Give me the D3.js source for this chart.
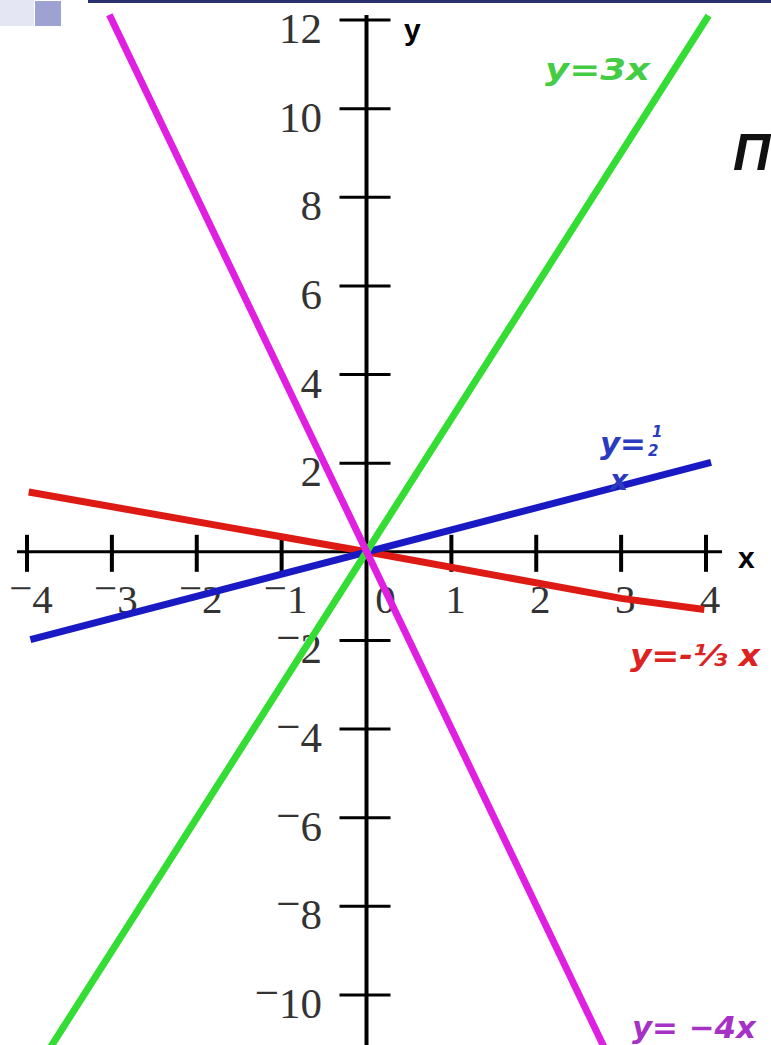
<!DOCTYPE html>
<html>
<head>
<meta charset="utf-8">
<script src="https://cdn.jsdelivr.net/npm/d3@7"></script>
<style>
  body { margin: 0; background: #fff; }
  svg { display: block; }
</style>
</head>
<body>
<div id="chart"></div>
<script>
const width = 771
const height = 1045

// tick values
const xTicks = [-4, -3, -2, -1, 0, 1, 2, 3, 4]
const yTicks = [-10, -8, -6, -4, -2, 2, 4, 6, 8, 10, 12]

// points, [x, y]
const greenLine = [[-3.73, -11.2], [4.03, 12.1]]
const magentaLine = [[-3.03, 12.12], [2.88, -11.5]]
const blueLine = [[-3.96, -1.98], [4.06, 2.02]]
const redLine = [[-3.98, 1.35], [0, 0], [3, -1.05], [3.98, -1.3]]

const x = d3.scaleLinear().domain([-4, 4]).range([27, 706])
const y = d3.scaleLinear().domain([-10, 12]).range([995, 20])

const svg = d3.select('#chart').append('svg')
  .attr('width', width)
  .attr('height', height)

// slide decoration at the top
svg.append('rect').attr('x', 0).attr('y', 0).attr('width', 34).attr('height', 26).attr('fill', '#e4e6f4')
svg.append('rect').attr('x', 35).attr('y', 1).attr('width', 26).attr('height', 25).attr('fill', '#9ea2d2')
svg.append('rect').attr('x', 88).attr('y', 0).attr('width', width - 88).attr('height', 3).attr('fill', '#2a3270')

const ox = x(0)
const oy = y(0)

// axes
svg.append('line')
  .attr('x1', ox).attr('x2', ox)
  .attr('y1', 15).attr('y2', height)
  .attr('stroke', '#000').attr('stroke-width', 4)

svg.append('line')
  .attr('x1', 17).attr('x2', 722)
  .attr('y1', oy).attr('y2', oy)
  .attr('stroke', '#000').attr('stroke-width', 3)

svg.selectAll('.xtick')
  .data(xTicks.filter(d => d !== 0)).enter()
  .append('line')
  .attr('x1', d => x(d)).attr('x2', d => x(d))
  .attr('y1', oy - 17).attr('y2', oy + 20)
  .attr('stroke', '#000').attr('stroke-width', 4)

svg.selectAll('.ytick')
  .data(yTicks).enter()
  .append('line')
  .attr('x1', ox - 27).attr('x2', ox + 24)
  .attr('y1', d => y(d)).attr('y2', d => y(d))
  .attr('stroke', '#000').attr('stroke-width', 3)

const serif = '"Liberation Serif", "DejaVu Serif", serif'

// minus sign sits raised, as in the original typesetting
const addLabel = (sel, d) => {
  if (d < 0) {
    sel.append('tspan').attr('dy', -11).text('\u2212')
    sel.append('tspan').attr('dy', 11).text(Math.abs(d))
  } else {
    sel.text(d)
  }
}

svg.selectAll('.xlab')
  .data(xTicks).enter()
  .append('text')
  .attr('x', d => d === 0 ? x(d) + 19 : x(d) + 4)
  .attr('y', oy + 61)
  .attr('text-anchor', 'middle')
  .attr('font-family', serif)
  .attr('font-size', 41)
  .attr('fill', '#333')
  .each(function (d) { addLabel(d3.select(this), d) })

svg.selectAll('.ylab')
  .data(yTicks).enter()
  .append('text')
  .attr('x', 322)
  .attr('y', d => y(d) + 23)
  .attr('text-anchor', 'end')
  .attr('font-family', serif)
  .attr('font-size', 43)
  .attr('fill', '#333')
  .each(function (d) { addLabel(d3.select(this), d) })

// axis names
svg.append('text').attr('x', 404).attr('y', 40)
  .attr('font-family', '"Liberation Sans", Arial, sans-serif')
  .attr('font-weight', 'bold').attr('font-size', 30).text('y')
svg.append('text').attr('x', 738).attr('y', 568)
  .attr('font-family', '"Liberation Sans", Arial, sans-serif')
  .attr('font-weight', 'bold').attr('font-size', 30).text('x')

// function lines
const line = d3.line().x(d => x(d[0])).y(d => y(d[1]))

const series = [
  { pts: redLine, color: '#dd1a14' },
  { pts: blueLine, color: '#1a1ac4' },
  { pts: greenLine, color: '#33dd33' },
  { pts: magentaLine, color: '#e020e0' }
]

svg.selectAll('.fn')
  .data(series).enter()
  .append('path')
  .attr('d', d => line(d.pts))
  .attr('fill', 'none')
  .attr('stroke', d => d.color)
  .attr('stroke-width', 7)
  .attr('stroke-linecap', 'butt')

// equation labels
const lblFont = '"DejaVu Sans", "Liberation Sans", sans-serif'
const eq = (tx, ty, color, size, len) => {
  const t = svg.append('text')
    .attr('x', tx).attr('y', ty)
    .attr('font-family', lblFont)
    .attr('font-weight', 'bold')
    .attr('font-style', 'italic')
    .attr('font-size', size)
    .attr('fill', color)
  if (len) t.attr('textLength', len).attr('lengthAdjust', 'spacingAndGlyphs')
  return t
}

eq(545, 80, '#44cc44', 30, 105).text('y=3x')

eq(600, 454, '#2a3bbf', 30, 46).text('y=')
eq(652, 437, '#2a3bbf', 15).text('1')
eq(648, 456, '#2a3bbf', 15).text('2')
eq(610, 490, '#2a3bbf', 28).text('x')

eq(630, 666, '#dd2222', 30, 130).text('y=-\u2153 x')
eq(632, 1038, '#a532c4', 30, 124).text('y= \u22124x')

// cut off title on the right
svg.append('text').attr('x', 733).attr('y', 170)
  .attr('font-family', '"Liberation Sans", Arial, sans-serif')
  .attr('font-weight', 'bold').attr('font-style', 'italic')
  .attr('font-size', 52).attr('fill', '#111').text('П')
</script>
</body>
</html>
